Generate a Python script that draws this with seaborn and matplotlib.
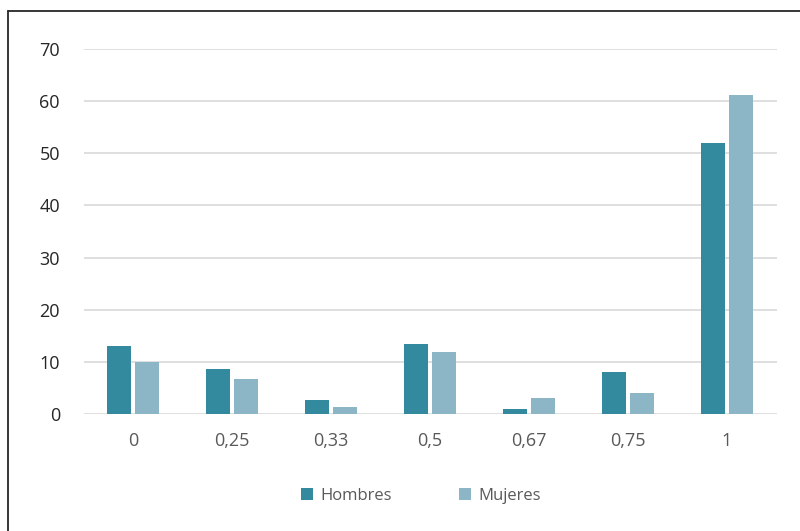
import matplotlib
matplotlib.use("Agg")
import matplotlib.pyplot as plt
from matplotlib.lines import Line2D
from matplotlib.patches import Patch
import seaborn as sns
import pandas as pd

categories = ["0", "0,25", "0,33", "0,5", "0,67", "0,75", "1"]
hombres = [13.0, 8.6, 2.6, 13.4, 0.9, 8.0, 51.9]
mujeres = [10.0, 6.8, 1.3, 11.8, 3.0, 4.1, 61.1]
series_names = ["Hombres", "Mujeres"]
colors = ["#33899d", "#8cb5c5"]
yticks = [0, 10, 20, 30, 40, 50, 60, 70]

df = pd.DataFrame({
    "categoria": categories * 2,
    "valor": hombres + mujeres,
    "sexo": [series_names[0]] * len(categories) + [series_names[1]] * len(categories),
})

sns.set_theme(style="white")
plt.rcParams["font.family"] = ["Open Sans", "DejaVu Sans"]

fig = plt.figure(figsize=(8.0, 5.31), dpi=100)
ax = fig.add_axes([83.5 / 800, 0.2203, 693 / 800, 0.6874])

sns.barplot(data=df, x="categoria", y="valor", hue="sexo", order=categories,
            hue_order=series_names, palette=colors, width=0.576, gap=0.15,
            saturation=1, linewidth=0, edgecolor="none",
            ax=ax, legend=False, errorbar=None)

ax.set_ylim(0, 70)
ax.set_xlim(-0.5, len(categories) - 0.5)
ax.set_yticks(yticks)
ax.set_yticklabels([str(v) for v in yticks])
ax.yaxis.grid(True, color="#d9d9d9", linewidth=1.2)
ax.set_axisbelow(True)
for s in ax.spines.values():
    s.set_visible(False)
ax.set_xlabel("")
ax.set_ylabel("")
ax.tick_params(axis="y", length=0, pad=17, labelsize=13, labelcolor="#262626")
ax.tick_params(axis="x", length=0, pad=13, labelsize=13, labelcolor="#595959")

handles = [Patch(facecolor=c, edgecolor="none") for c in colors]
leg = fig.legend(handles, series_names, loc="center", bbox_to_anchor=(421 / 800, 1 - 496 / 531),
                 ncol=2, frameon=False, fontsize=12, handlelength=0.75, handleheight=0.75,
                 handletextpad=0.45, columnspacing=4.0)
for t in leg.get_texts():
    t.set_color("#595959")

# outer frame (top and left edges)
fig.add_artist(Line2D([8 / 800, 1.0], [1 - 11 / 531, 1 - 11 / 531], color="#262626", linewidth=1.3))
fig.add_artist(Line2D([8 / 800, 8 / 800], [0.0, 1 - 11 / 531], color="#262626", linewidth=1.3))

fig.savefig("out.png", dpi=100)
